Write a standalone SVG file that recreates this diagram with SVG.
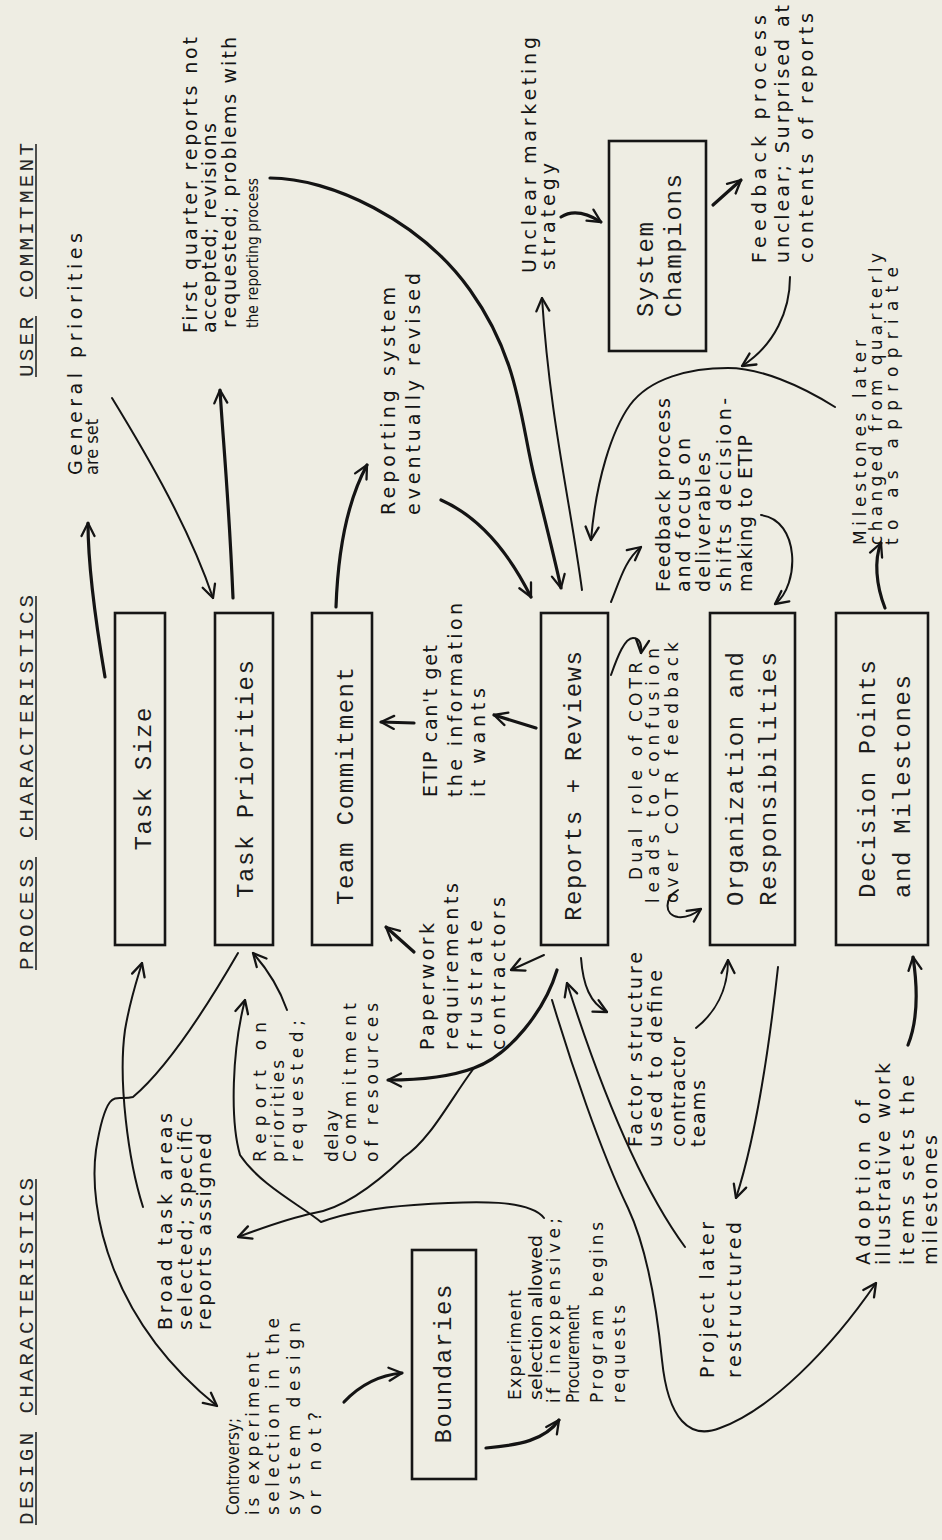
<svg xmlns="http://www.w3.org/2000/svg" width="942" height="1540" viewBox="0 0 942 1540">
<defs>
<style>
.bg{fill:#eeede3}
.box{fill:none;stroke:#161616;stroke-width:2.6}
.lbl{font-family:"Liberation Mono","Courier New",monospace;font-size:24px;fill:#1c1c1c}
.hdr{font-family:"Liberation Mono","Courier New",monospace;font-size:21px;fill:#262626}
.ul{stroke:#262626;stroke-width:1.6}
.hw{font-family:"DejaVu Sans","Liberation Sans",sans-serif;font-size:19px;fill:#141414}
.md{font-size:17px}
.sm{font-size:15px}
.c{fill:none;stroke:#141414;stroke-width:2;stroke-linecap:round;stroke-linejoin:round}
.k{stroke-width:3.2}
.a{marker-end:url(#ah)}
</style>
<marker id="ah" viewBox="0 0 16 16" refX="14.5" refY="8" markerWidth="16" markerHeight="16" markerUnits="userSpaceOnUse" orient="auto">
<path d="M1.5,1.5 L14.5,8 L1.5,14.5" fill="none" stroke="#141414" stroke-width="2.3" stroke-linecap="round" stroke-linejoin="round"/>
</marker>
</defs>
<rect class="bg" x="0" y="0" width="942" height="1540"/>

<g id="headers">
<text class="hdr" transform="translate(33,377) rotate(-90)" textLength="234" lengthAdjust="spacing">USER COMMITMENT</text>
<line class="ul" x1="36" y1="377" x2="36" y2="316"/><line class="ul" x1="36" y1="299" x2="36" y2="144"/>
<text class="hdr" transform="translate(33,970) rotate(-90)" textLength="375" lengthAdjust="spacing">PROCESS CHARACTERISTICS</text>
<line class="ul" x1="36" y1="970" x2="36" y2="857"/><line class="ul" x1="36" y1="840" x2="36" y2="596"/>
<text class="hdr" transform="translate(33,1525) rotate(-90)" textLength="347" lengthAdjust="spacing">DESIGN CHARACTERISTICS</text>
<line class="ul" x1="36" y1="1525" x2="36" y2="1432"/><line class="ul" x1="36" y1="1415" x2="36" y2="1179"/>
</g>

<g id="task-size"><rect class="box" x="115" y="613" width="50" height="332"/>
<text class="lbl" transform="translate(151,779) rotate(-90)" text-anchor="middle" textLength="143">Task Size</text></g>
<g id="task-priorities"><rect class="box" x="215" y="613" width="58" height="332"/>
<text class="lbl" transform="translate(253,779) rotate(-90)" text-anchor="middle" textLength="238">Task Priorities</text></g>
<g id="team-commitment"><rect class="box" x="312" y="613" width="60" height="332"/>
<text class="lbl" transform="translate(353,786) rotate(-90)" text-anchor="middle" textLength="238">Team Commitment</text></g>
<g id="reports-reviews"><rect class="box" x="541" y="613" width="67" height="332"/>
<text class="lbl" transform="translate(581,786) rotate(-90)" text-anchor="middle" textLength="270">Reports + Reviews</text></g>
<g id="organization"><rect class="box" x="710" y="613" width="85" height="332"/>
<text class="lbl" transform="translate(743,779) rotate(-90)" text-anchor="middle" textLength="254">Organization and</text>
<text class="lbl" transform="translate(776,779) rotate(-90)" text-anchor="middle" textLength="254">Responsibilities</text></g>
<g id="decision-points"><rect class="box" x="836" y="613" width="92" height="332"/>
<text class="lbl" transform="translate(875,898) rotate(-90)" textLength="238">Decision Points</text>
<text class="lbl" transform="translate(910,898) rotate(-90)" textLength="223">and Milestones</text></g>
<g id="system-champions"><rect class="box" x="609" y="141" width="97" height="210"/>
<text class="lbl" transform="translate(653,317) rotate(-90)" textLength="95">System</text>
<text class="lbl" transform="translate(681,317) rotate(-90)" textLength="143">Champions</text></g>
<g id="boundaries"><rect class="box" x="412" y="1250" width="64" height="229"/>
<text class="lbl" transform="translate(451,1364) rotate(-90)" text-anchor="middle" textLength="159">Boundaries</text></g>

<g id="note-general-priorities" class="hw">
<text transform="translate(82,475) rotate(-90)" textLength="242">General priorities</text>
<text class="md" transform="translate(98,475) rotate(-90)" textLength="56" lengthAdjust="spacingAndGlyphs">are set</text></g>
<g id="note-first-quarter" class="hw">
<text transform="translate(197,333) rotate(-90)" textLength="296">First quarter reports not</text>
<text transform="translate(216,333) rotate(-90)" textLength="210">accepted; revisions</text>
<text transform="translate(236,328) rotate(-90)" textLength="291">requested; problems with</text>
<text class="sm" transform="translate(258,328) rotate(-90)" textLength="150" lengthAdjust="spacingAndGlyphs">the reporting process</text></g>
<g id="note-reporting-system" class="hw">
<text transform="translate(395,515) rotate(-90)" textLength="228">Reporting system</text>
<text transform="translate(420,515) rotate(-90)" textLength="242">eventually revised</text></g>
<g id="note-unclear-marketing" class="hw">
<text transform="translate(536,273) rotate(-90)" textLength="236">Unclear marketing</text>
<text transform="translate(555,270) rotate(-90)" textLength="107">strategy</text></g>
<g id="note-feedback-unclear" class="hw">
<text transform="translate(766,263) rotate(-90)" textLength="248">Feedback process</text>
<text transform="translate(789,263) rotate(-90)" textLength="258">unclear; Surprised at</text>
<text transform="translate(813,263) rotate(-90)" textLength="250">contents of reports</text></g>
<g id="note-etip" class="hw">
<text transform="translate(437,797) rotate(-90)" textLength="152">ETIP can't get</text>
<text transform="translate(462,797) rotate(-90)" textLength="194">the information</text>
<text transform="translate(485,797) rotate(-90)" textLength="109">it wants</text></g>
<g id="note-paperwork" class="hw">
<text transform="translate(434,1050) rotate(-90)" textLength="127">Paperwork</text>
<text transform="translate(458,1050) rotate(-90)" textLength="167">requirements</text>
<text transform="translate(482,1050) rotate(-90)" textLength="130">frustrate</text>
<text transform="translate(505,1050) rotate(-90)" textLength="153">contractors</text></g>
<g id="note-report-on-priorities" class="hw md">
<text transform="translate(266,1162) rotate(-90)" textLength="140">Report on</text>
<text transform="translate(284,1162) rotate(-90)" textLength="102">priorities</text>
<text transform="translate(303,1162) rotate(-90)" textLength="142">requested;</text>
<text transform="translate(338,1162) rotate(-90)" textLength="52">delay</text>
<text transform="translate(356,1162) rotate(-90)" textLength="159">Commitment</text>
<text transform="translate(378,1162) rotate(-90)" textLength="159">of resources</text></g>
<g id="note-broad-task" class="hw">
<text transform="translate(172,1330) rotate(-90)" textLength="217">Broad task areas</text>
<text transform="translate(192,1330) rotate(-90)" textLength="213">selected; specific</text>
<text transform="translate(211,1330) rotate(-90)" textLength="197">reports assigned</text></g>
<g id="note-controversy" class="hw md">
<text transform="translate(239,1515) rotate(-90)" textLength="97" lengthAdjust="spacingAndGlyphs">Controversy;</text>
<text transform="translate(259,1515) rotate(-90)" textLength="163">is experiment</text>
<text transform="translate(279,1515) rotate(-90)" textLength="197">selection in the</text>
<text transform="translate(300,1515) rotate(-90)" textLength="193">system design</text>
<text transform="translate(321,1515) rotate(-90)" textLength="103">or not?</text></g>
<g id="note-experiment" class="hw md">
<text transform="translate(521,1400) rotate(-90)" textLength="110">Experiment</text>
<text transform="translate(542,1400) rotate(-90)" textLength="165" lengthAdjust="spacingAndGlyphs">selection allowed</text>
<text transform="translate(560,1403) rotate(-90)" textLength="185">if inexpensive;</text>
<text transform="translate(579,1403) rotate(-90)" textLength="98" lengthAdjust="spacingAndGlyphs">Procurement</text>
<text transform="translate(603,1403) rotate(-90)" textLength="181">Program begins</text>
<text transform="translate(625,1403) rotate(-90)" textLength="98">requests</text></g>
<g id="note-factor" class="hw">
<text transform="translate(642,1147) rotate(-90)" textLength="195">Factor structure</text>
<text transform="translate(662,1147) rotate(-90)" textLength="177">used to define</text>
<text transform="translate(685,1147) rotate(-90)" textLength="110">contractor</text>
<text transform="translate(705,1147) rotate(-90)" textLength="67">teams</text></g>
<g id="note-dual-role" class="hw md">
<text transform="translate(642,880) rotate(-90)" textLength="218">Dual role of COTR</text>
<text transform="translate(659,903) rotate(-90)" textLength="255">leads to confusion</text>
<text transform="translate(678,903) rotate(-90)" textLength="261">over COTR feedback</text></g>
<g id="note-feedback-focus" class="hw">
<text transform="translate(670,592) rotate(-90)" textLength="194">Feedback process</text>
<text transform="translate(690,592) rotate(-90)" textLength="154">and focus on</text>
<text transform="translate(710,592) rotate(-90)" textLength="140">deliverables</text>
<text transform="translate(731,592) rotate(-90)" textLength="194">shifts decision-</text>
<text transform="translate(752,592) rotate(-90)" textLength="157">making to ETIP</text></g>
<g id="note-milestones" class="hw md">
<text transform="translate(866,545) rotate(-90)" textLength="205">Milestones later</text>
<text transform="translate(882,545) rotate(-90)" textLength="292">changed from quarterly</text>
<text transform="translate(898,545) rotate(-90)" textLength="278">to as appropriate</text></g>
<g id="note-project" class="hw">
<text transform="translate(714,1378) rotate(-90)" textLength="156">Project later</text>
<text transform="translate(741,1378) rotate(-90)" textLength="156">restructured</text></g>
<g id="note-adoption" class="hw">
<text transform="translate(870,1265) rotate(-90)" textLength="165">Adoption of</text>
<text transform="translate(890,1265) rotate(-90)" textLength="202">illustrative work</text>
<text transform="translate(914,1265) rotate(-90)" textLength="190">items sets the</text>
<text transform="translate(937,1265) rotate(-90)" textLength="130">milestones</text></g>

<g id="connectors">
<path class="c k a" d="M105,677 C97,630 88,570 88,523"/>
<path class="c a" d="M112,398 C150,460 190,530 213,598"/>
<path class="c k a" d="M233,598 C229,500 223,440 220,390"/>
<path class="c k a" d="M270,178 C330,178 420,220 470,290 S520,420 535,480 S555,560 561,588"/>
<path class="c a" d="M582,590 C570,500 550,420 542,298"/>
<path class="c k a" d="M561,217 C572,210 585,212 601,222"/>
<path class="c k a" d="M713,205 L741,180"/>
<path class="c a" d="M835,407 C800,385 760,368 728,368 C690,368 650,378 630,405 C612,430 596,480 591,540"/>
<path class="c a" d="M790,277 C790,310 775,345 742,366"/>
<path class="c k a" d="M336,607 C338,550 348,500 367,465"/>
<path class="c k a" d="M441,500 C475,515 505,545 531,597"/>
<path class="c k a" d="M536,728 L494,715"/>
<path class="c k a" d="M414,723 L381,722"/>
<path class="c a" d="M611,602 C620,580 625,560 641,547"/>
<path class="c a" d="M761,515 C800,520 800,585 775,604"/>
<path class="c k a" d="M885,608 C876,585 874,560 881,543"/>
<path class="c a" d="M611,675 C618,655 625,638 633,638 C640,638 642,645 641,653"/>
<path class="c a" d="M678,890 C664,898 664,915 678,917 C688,918 695,913 701,909"/>
<path class="c a" d="M544,955 L511,970"/>
<path class="c k a" d="M414,952 L386,927"/>
<path class="c k a" d="M557,970 C545,1010 510,1055 474,1068 C450,1077 420,1080 388,1080"/>
<path class="c a" d="M474,1068 C450,1100 430,1140 404,1157 C380,1180 345,1208 314,1213 C290,1218 262,1228 238,1237"/>
<path class="c a" d="M581,958 C583,985 590,1003 607,1012"/>
<path class="c a" d="M696,1028 C715,1013 728,990 728,960"/>
<path class="c a" d="M778,967 C770,1040 758,1130 736,1198"/>
<path class="c a" d="M685,1247 Q625,1165 567,983"/>
<path class="c a" d="M552,1000 C570,1060 600,1150 628,1208 C650,1255 658,1320 662,1360 C668,1420 690,1440 720,1428 C770,1410 830,1350 876,1283"/>
<path class="c k a" d="M908,1045 C918,1020 918,990 913,957"/>
<path class="c a" d="M143,1207 C128,1160 118,1080 125,1030 C130,1000 137,980 142,963"/>
<path class="c a" d="M238,953 C205,1010 165,1070 133,1097 C122,1100 115,1095 110,1102 C104,1110 100,1125 96,1150 C88,1210 110,1320 217,1406"/>
<path class="c a" d="M544,1218 C530,1200 480,1200 414,1205 C370,1208 340,1215 321,1222 C300,1205 260,1185 240,1155 C230,1120 232,1050 245,1000"/>
<path class="c k a" d="M344,1402 C360,1385 380,1375 402,1373"/>
<path class="c k a" d="M486,1448 C520,1445 545,1440 559,1420"/>
<path class="c a" d="M287,1010 C280,990 268,970 253,953"/>
</g>
</svg>
